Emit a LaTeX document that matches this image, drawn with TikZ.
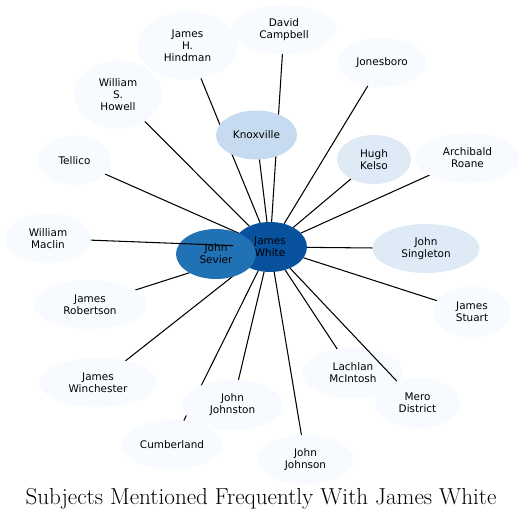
\documentclass[tikz,border=0pt]{standalone}
\usepackage{fontspec}
\newfontfamily\nodefont{DejaVu Sans}
\usetikzlibrary{shapes.geometric,backgrounds}
\definecolor{cwhite}{HTML}{08519C}
\definecolor{csevier}{HTML}{2171B5}
\definecolor{cknox}{HTML}{C6DBEF}
\definecolor{cmid}{HTML}{DEEBF7}
\definecolor{clow}{HTML}{F7FBFF}
\tikzset{
  subj/.style={ellipse, inner sep=0pt, outer sep=0pt, align=center, text=black,
    font=\nodefont\fontsize{10.5}{12}\selectfont},
  lvlfour/.style={subj, fill=cwhite},
  lvlthree/.style={subj, fill=csevier},
  lvltwo/.style={subj, fill=cknox},
  lvlone/.style={subj, fill=cmid},
  lvlzero/.style={subj, fill=clow},
  link/.style={draw=black, line width=1.05bp},
  sz/.style 2 args={minimum width=#1bp, minimum height=#2bp}
}
\begin{document}
\begin{tikzpicture}[x=1bp,y=-1bp]
\useasboundingbox (0,0) rectangle (526,520);
% nodes
\node[lvlzero, sz={104}{49}] (campbell) at (284,29.5) {David\\Campbell};
\node[lvlzero, sz={100}{68}] (hindman) at (187.5,45.5) {James\\H.\\Hindman};
\node[lvlzero, sz={88}{49}] (jonesboro) at (382,62.5) {Jonesboro};
\node[lvlzero, sz={87}{68}] (howell) at (118,94.5) {William\\S.\\Howell};
\node[lvltwo, sz={81}{49}] (knox) at (256.5,135) {Knoxville};
\node[lvlone, sz={74}{49}] (kelso) at (374,159.5) {Hugh\\Kelso};
\node[lvlzero, sz={73}{49}] (tellico) at (74.5,160.5) {Tellico};
\node[lvlzero, sz={104}{50}] (roane) at (467.5,158) {Archibald\\Roane};
\node[lvlzero, sz={86}{49}] (maclin) at (48,238.5) {William\\Maclin};
\node[lvlfour, sz={74}{50}] (white) at (270,247) {James\\White};
\node[lvlthree, sz={80}{50}] (sevier) at (216,254) {John\\Sevier};
\node[lvlone, sz={107}{49}] (singleton) at (426,248.5) {John\\Singleton};
\node[lvlzero, sz={112}{49}] (robertson) at (90,304.5) {James\\Robertson};
\node[lvlzero, sz={78}{50}] (stuart) at (472,312) {James\\Stuart};
\node[lvlzero, sz={117}{49}] (winchester) at (98,382.5) {James\\Winchester};
\node[lvlzero, sz={101}{50}] (mcintosh) at (353,373) {Lachlan\\McIntosh};
\node[lvlzero, sz={85}{50}] (mero) at (417.5,403) {Mero\\District};
\node[lvlzero, sz={101}{50}] (johnston) at (232.5,405) {John\\Johnston};
\node[lvlzero, sz={100}{49}] (cumberland) at (172,444.5) {Cumberland};
\node[lvlzero, sz={95}{49}] (johnson) at (305.5,459.5) {John\\Johnson};
\node[anchor=base, font=\fontsize{23.2}{27}\selectfont] (title) at (261,504) {Subjects Mentioned Frequently With James White};
% connectors under the nodes
\begin{scope}[on background layer]
\fill[white] (0,0) rectangle (526,520);
\foreach \t in {campbell,hindman,jonesboro,howell,knox,kelso,tellico,roane,singleton,robertson,stuart,winchester,mcintosh,johnston,cumberland,johnson}
  \draw[link] (white) -- (\t);
\end{scope}
% connectors over the nodes
\draw[link] (white) -- (maclin);
\draw[link] (white) -- (mero);
\end{tikzpicture}
\end{document}
